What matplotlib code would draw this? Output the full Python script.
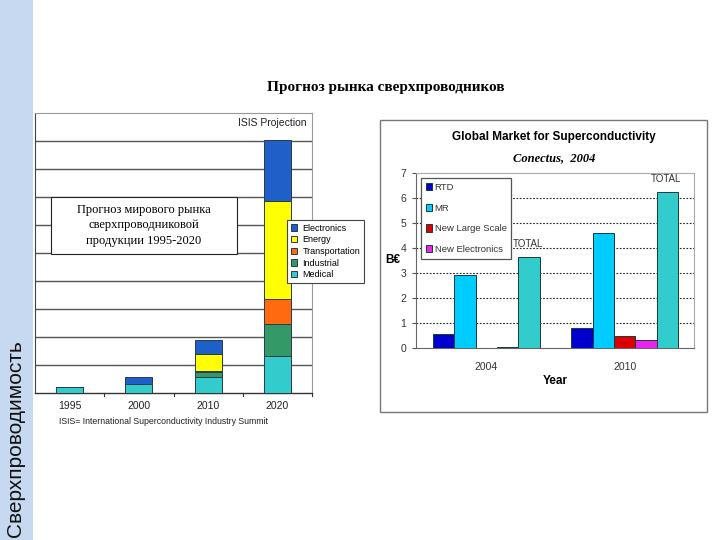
import matplotlib
matplotlib.use("Agg")
import matplotlib.pyplot as plt
from matplotlib.patches import Rectangle
import numpy as np

# ---------------- data ----------------
left_years = ['1995', '2000', '2010', '2020']
left_series = ['Electronics', 'Energy', 'Transportation', 'Industrial', 'Medical']
medical = [0.21, 0.32, 0.57, 1.32]
industrial = [0.0, 0.0, 0.18, 1.13]
transportation = [0.0, 0.0, 0.03, 0.89]
energy = [0.0, 0.0, 0.60, 3.50]
electronics = [0.0, 0.25, 0.53, 2.21]

right_years = ['2004', '2010']
right_series = ['RTD', 'MR', 'New Large Scale', 'New Electronics', 'TOTAL']
rtd = [0.57, 0.80]
mr = [2.92, 4.61]
new_large = [0.02, 0.49]
new_elec = [0.05, 0.31]
total = [3.65, 6.24]
right_yticks = [0, 1, 2, 3, 4, 5, 6, 7]

# ---------------- figure ----------------
W, H = 720, 540
fig = plt.figure(figsize=(7.2, 5.4), dpi=100)
fig.patch.set_facecolor('white')

def fx(x):
    return x / W

def fy(y):
    return 1 - y / H

SANS = ['Liberation Sans', 'DejaVu Sans']
SERIF = ['Liberation Serif', 'DejaVu Serif']

# blue strip at left
fig.add_artist(Rectangle((0, 0), fx(33), 1, transform=fig.transFigure,
                         facecolor='#c6d9f0', edgecolor='none', zorder=0))
fig.text(fx(16), fy(537), 'Сверхпроводимость', rotation=90, ha='center', va='bottom',
         fontsize=15, family=SANS, color='#111111')

# main title
fig.text(fx(385.5), fy(88), 'Прогноз рынка сверхпроводников', ha='center', va='center',
         fontsize=11, fontweight='bold', family=SERIF)

# ---------------- left chart ----------------
axl = fig.add_axes([fx(35), fy(393), fx(312 - 35), (393 - 113) / H])
x = np.arange(len(left_years))
colors_l = {'Medical': '#33cccc', 'Industrial': '#339966', 'Transportation': '#ff6a10',
            'Energy': '#ffff00', 'Electronics': '#1f5fc8'}
stack = [('Medical', medical), ('Industrial', industrial), ('Transportation', transportation),
         ('Energy', energy), ('Electronics', electronics)]
bottom = np.zeros(len(left_years))
handles = {}
for name, vals in stack:
    v = np.array(vals)
    b = axl.bar(x, v, width=0.39, bottom=bottom, color=colors_l[name], edgecolor='#2a3a4a',
                linewidth=0.7, zorder=3, label=name)
    handles[name] = b
    bottom += v
axl.set_xlim(-0.5, 3.5)
axl.set_ylim(0, 10)
axl.set_yticks(range(1, 10))
axl.yaxis.grid(True, color='#555555', linewidth=1.0, zorder=0)
axl.tick_params(axis='y', left=False, labelleft=False)
axl.set_xticks(x)
axl.set_xticklabels(left_years, fontsize=7.5, family=SANS, color='#222222')
axl.tick_params(axis='x', length=0, pad=6)
for xb in [0.5, 1.5, 2.5, 3.5]:
    axl.plot([xb, xb], [0, -0.12], color='#333333', lw=0.8, clip_on=False)
for side in ['top', 'right']:
    axl.spines[side].set_color('#999999')
axl.spines['left'].set_color('#444444')
axl.spines['bottom'].set_color('#333333')
axl.spines['bottom'].set_linewidth(1.0)
axl.text(0.98, 0.965, 'ISIS Projection', transform=axl.transAxes, ha='right', va='center',
         fontsize=7.5, family=SANS, color='#222222')
leg = axl.legend([handles[n] for n in left_series], left_series, loc='upper left',
                 bbox_to_anchor=((287 - 35) / 277, (393 - 220) / 280),
                 frameon=True, fancybox=False, framealpha=1, edgecolor='#444444',
                 handlelength=0.7, handleheight=0.7, handletextpad=0.6, labelspacing=0.3,
                 borderpad=0.4, borderaxespad=0, prop={'family': SANS, 'size': 6.5})
leg.set_zorder(10)
leg.get_frame().set_linewidth(0.8)

fig.text(fx(59), fy(422), 'ISIS= International Superconductivity Industry Summit', ha='left', va='center',
         fontsize=6.3, family=SANS, color='#222222')

# text box
fig.add_artist(Rectangle((fx(51), fy(254)), fx(237 - 51), (254 - 197) / H, transform=fig.transFigure,
                         facecolor='white', edgecolor='#222222', linewidth=0.8, zorder=5))
fig.text(fx(144), fy(225.5), 'Прогноз мирового рынка\nсверхпроводниковой\nпродукции 1995-2020',
         ha='center', va='center', fontsize=9, linespacing=1.35, family=SERIF, zorder=6)

# ---------------- right chart ----------------
fig.add_artist(Rectangle((fx(380), fy(412)), fx(707 - 380), (412 - 120) / H, transform=fig.transFigure,
                         facecolor='white', edgecolor='#777777', linewidth=1.0, zorder=1))
axr = fig.add_axes([fx(416), fy(348), fx(694 - 416), (348 - 173) / H])
axr.set_zorder(2)
colors_r = ['#0000cc', '#00ccff', '#dd0000', '#ee22ee', '#33cccc']
vals_r = [rtd, mr, new_large, new_elec, total]
xr = np.arange(len(right_years))
bw = 0.154
rh = []
for i, (name, vals, c) in enumerate(zip(right_series, vals_r, colors_r)):
    b = axr.bar(xr + (i - 2) * bw, vals, width=bw, color=c, edgecolor='#1a3a3a',
                linewidth=0.7, zorder=3, label=name)
    rh.append(b)
for xi, t in zip(xr, total):
    axr.text(xi + 2 * bw - 0.01, t + 0.3, 'TOTAL', ha='center', va='bottom', fontsize=7,
             family=SANS, color='#333333', zorder=6)
axr.set_xlim(-0.508, 1.5)
axr.set_ylim(0, 7)
axr.set_yticks(right_yticks)
axr.set_yticklabels([str(v) for v in right_yticks], fontsize=7.5, family=SANS, color='#333333')
axr.tick_params(axis='y', length=3, color='#555555', pad=4)
for yv in range(1, 7):
    axr.axhline(yv, color='#222222', linestyle=(0, (1.5, 1.5)), linewidth=0.8, zorder=1)
axr.set_xticks(xr)
axr.set_xticklabels(right_years, fontsize=7.5, family=SANS, color='#333333')
axr.tick_params(axis='x', length=0, pad=10)
for side in ['top', 'right']:
    axr.spines[side].set_color('#aaaaaa')
axr.spines['left'].set_color('#666666')
axr.spines['bottom'].set_color('#666666')
axr.set_xlabel('Year', fontsize=8.5, fontweight='bold', family=SANS, labelpad=2)
fig.text(fx(393), fy(260), 'B€', ha='center', va='center', fontsize=8.5, fontweight='bold',
         family=SANS)
legr = axr.legend(rh[:4], right_series[:4], loc='upper left',
                  bbox_to_anchor=((421 - 416) / 278, (348 - 178) / 175),
                  frameon=True, fancybox=False, framealpha=1, edgecolor='#555555',
                  handlelength=0.7, handleheight=0.8, handletextpad=0.25, labelspacing=1.25,
                  borderpad=0.5, borderaxespad=0, prop={'family': SANS, 'size': 6.8})
legr.get_frame().set_linewidth(0.9)
legr.set_zorder(5)
for t in legr.get_texts():
    t.set_color('#333333')

fig.text(fx(554), fy(137), 'Global Market for Superconductivity', ha='center', va='center',
         fontsize=8.5, fontweight='bold', family=SANS)
fig.text(fx(554), fy(158), 'Conectus,  2004', ha='center', va='center',
         fontsize=9, fontweight='bold', fontstyle='italic', family=SERIF)

fig.savefig('out.png', dpi=100, facecolor='white')
